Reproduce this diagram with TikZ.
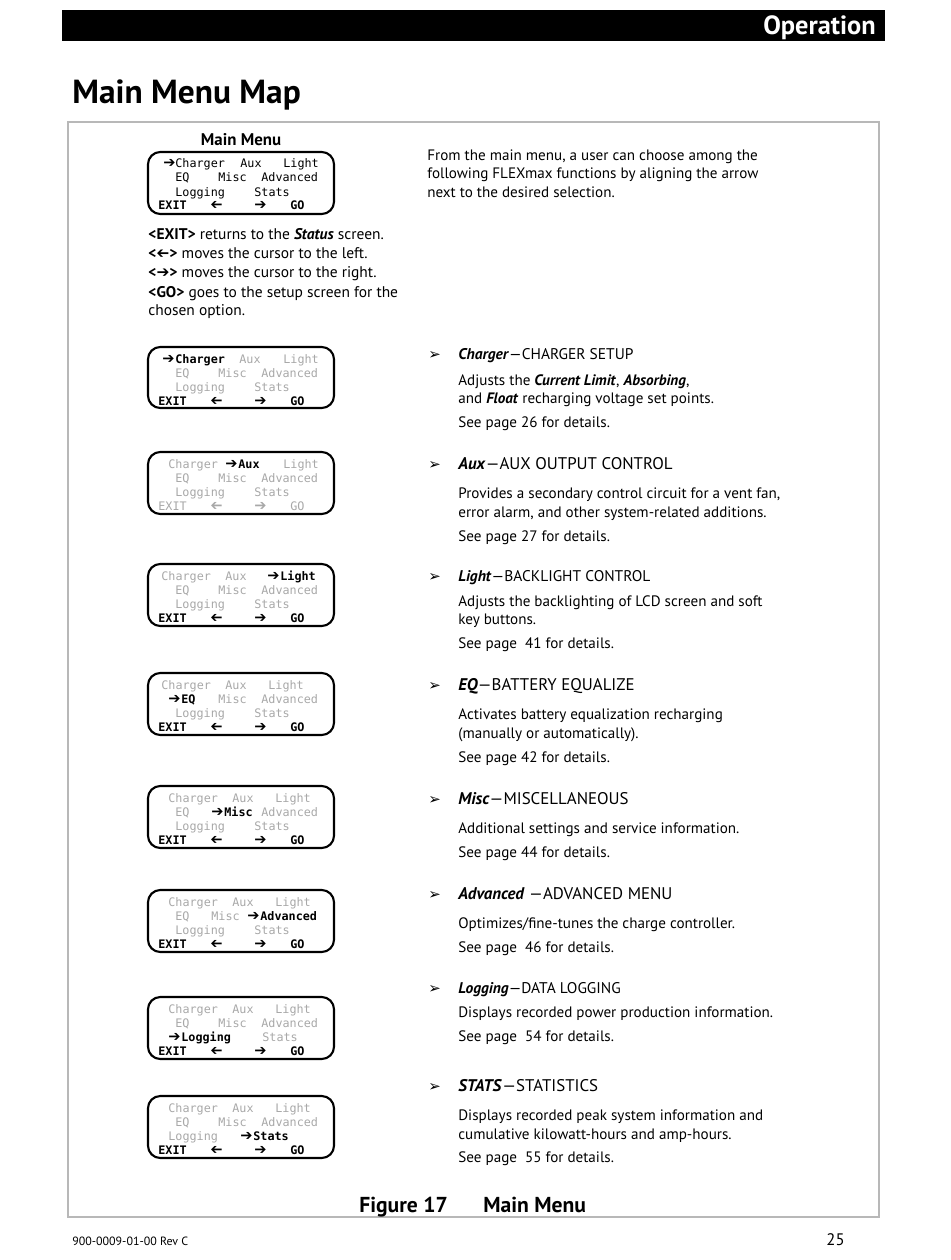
\documentclass[tikz,border=0pt]{standalone}
\usepackage{fontspec}
\setmainfont{PT Sans}
\newfontfamily\lcdfont{DejaVu Sans Mono}
\newfontfamily\symfont{DejaVu Sans}
\usepackage{tikz}
\usetikzlibrary{positioning}

\definecolor{lcdgray}{gray}{0.66}
\definecolor{framegray}{gray}{0.72}

\newcommand{\rarr}{{\symfont ➔}}
\newcommand{\larr}{{\symfont\reflectbox{➔}}}

\tikzset{
  lcd/.style={draw=black, line width=1.2pt, rounded corners=7pt},
  lcdtxt/.style={anchor=base west, inner sep=0pt, font=\lcdfont\fontsize{6.7}{7}\selectfont},
  lcdon/.style={lcdtxt, font=\lcdfont\bfseries\fontsize{6.7}{7}\selectfont},
  lcdoff/.style={lcdtxt, text=lcdgray},
  lcdsym/.style={anchor=base west, inner sep=0pt, font=\symfont\fontsize{8.3}{9}\selectfont},
  txt/.style={anchor=base west, inner sep=0pt, font=\fontsize{8.6}{10}\selectfont},
  keytxt/.style={txt, font=\fontsize{8.8}{10}\selectfont},
  smallhead/.style={txt, font=\fontsize{8.8}{10}\selectfont},
  bighead/.style={txt, font=\fontsize{9.6}{11}\selectfont},
  bullet/.style={anchor=base west, inner sep=0pt, font=\symfont\fontsize{8.5}{9}\selectfont},
}

\begin{document}
\begin{tikzpicture}[x=0.02cm, y=-0.02cm]
        \useasboundingbox (0,0) rectangle (950,1260);
        % page header
        \fill (62,10) rectangle (885,41);
        \node[anchor=base east, inner sep=0pt, text=white, font=\bfseries\fontsize{15}{17}\selectfont] (oper) at (876,35) {Operation};
        \node[anchor=base west, inner sep=0pt, font=\bfseries\fontsize{19}{22}\selectfont] (maptitle) at (72,104) {Main Menu Map};
        \draw[framegray, line width=0.8pt] (68,122) rectangle (879,1217);
        \node[anchor=base, inner sep=0pt, font=\bfseries\fontsize{9.6}{11}\selectfont] (menutitle) at (241,146) {Main Menu};

        % main menu screen
        \begin{scope}[shift={(0,152)}]
        \draw[lcd] (148,0) rectangle (334,62);
        \node[lcdsym] (a1) at (163,16) {\rarr};
        \node[lcdtxt] (a1ch) at (175,16) {Charger};
        \node[lcdtxt] (a1aux) at (240,16) {Aux};
        \node[lcdtxt] (a1li) at (283,16) {Light};
        \node[lcdtxt] (a1eq) at (175,30) {EQ};
        \node[lcdtxt] (a1mi) at (218,30) {Misc};
        \node[lcdtxt] (a1ad) at (261,30) {Advanced};
        \node[lcdtxt] (a1lo) at (175,44.5) {Logging};
        \node[lcdtxt] (a1st) at (254,44.5) {Stats};
        \node[lcdon] (a1ex) at (158,58) {EXIT};
        \node[lcdsym] (a1l) at (210,58) {\larr};
        \node[lcdsym] (a1r) at (254,58) {\rarr};
        \node[lcdon] (a1go) at (290,58) {GO};
        \end{scope}

        % Charger
        \begin{scope}[shift={(0,347)}]
        \draw[lcd] (148,0) rectangle (334,61);
        \node[lcdsym] (a2) at (162,16) {\rarr};
        \node[lcdon] (a2ch) at (175,16) {Charger};
        \node[lcdoff] (a2aux) at (239,16) {Aux};
        \node[lcdoff] (a2li) at (283,16) {Light};
        \node[lcdoff] (a2eq) at (175,30) {EQ};
        \node[lcdoff] (a2mi) at (218,30) {Misc};
        \node[lcdoff] (a2ad) at (261,30) {Advanced};
        \node[lcdoff] (a2lo) at (175,44.5) {Logging};
        \node[lcdoff] (a2st) at (254,44.5) {Stats};
        \node[lcdon] (a2ex) at (158,58) {EXIT};
        \node[lcdsym] (a2l) at (210,58) {\larr};
        \node[lcdsym] (a2r) at (254,58) {\rarr};
        \node[lcdon] (a2go) at (290,58) {GO};
        \end{scope}

        % Aux
        \begin{scope}[shift={(0,452)}]
        \draw[lcd] (148,0) rectangle (334,62);
        \node[lcdoff] (a3ch) at (168,16) {Charger};
        \node[lcdsym] (a3) at (225,16) {\rarr};
        \node[lcdon] (a3aux) at (238,16) {Aux};
        \node[lcdoff] (a3li) at (283,16) {Light};
        \node[lcdoff] (a3eq) at (175,30) {EQ};
        \node[lcdoff] (a3mi) at (218,30) {Misc};
        \node[lcdoff] (a3ad) at (261,30) {Advanced};
        \node[lcdoff] (a3lo) at (175,44.5) {Logging};
        \node[lcdoff] (a3st) at (254,44.5) {Stats};
        \node[lcdoff] (a3ex) at (158,58) {EXIT};
        \node[lcdsym, text=lcdgray] (a3l) at (210,58) {\larr};
        \node[lcdsym, text=lcdgray] (a3r) at (254,58) {\rarr};
        \node[lcdoff] (a3go) at (290,58) {GO};
        \end{scope}

        % Light
        \begin{scope}[shift={(0,564)}]
        \draw[lcd] (148,0) rectangle (334,62);
        \node[lcdoff] (a4ch) at (161,16) {Charger};
        \node[lcdoff] (a4aux) at (225,16) {Aux};
        \node[lcdsym] (a4) at (267,16) {\rarr};
        \node[lcdon] (a4li) at (280,16) {Light};
        \node[lcdoff] (a4eq) at (175,30) {EQ};
        \node[lcdoff] (a4mi) at (218,30) {Misc};
        \node[lcdoff] (a4ad) at (261,30) {Advanced};
        \node[lcdoff] (a4lo) at (175,44.5) {Logging};
        \node[lcdoff] (a4st) at (254,44.5) {Stats};
        \node[lcdon] (a4ex) at (158,58) {EXIT};
        \node[lcdsym] (a4l) at (210,58) {\larr};
        \node[lcdsym] (a4r) at (254,58) {\rarr};
        \node[lcdon] (a4go) at (290,58) {GO};
        \end{scope}

        % EQ
        \begin{scope}[shift={(0,673)}]
        \draw[lcd] (148,0) rectangle (334,62);
        \node[lcdoff] (a5ch) at (161,16) {Charger};
        \node[lcdoff] (a5aux) at (225,16) {Aux};
        \node[lcdoff] (a5li) at (268,16) {Light};
        \node[lcdsym] (a5) at (168,30) {\rarr};
        \node[lcdon] (a5eq) at (181,30) {EQ};
        \node[lcdoff] (a5mi) at (218,30) {Misc};
        \node[lcdoff] (a5ad) at (261,30) {Advanced};
        \node[lcdoff] (a5lo) at (175,44.5) {Logging};
        \node[lcdoff] (a5st) at (254,44.5) {Stats};
        \node[lcdon] (a5ex) at (158,58) {EXIT};
        \node[lcdsym] (a5l) at (210,58) {\larr};
        \node[lcdsym] (a5r) at (254,58) {\rarr};
        \node[lcdon] (a5go) at (290,58) {GO};
        \end{scope}

        % Misc
        \begin{scope}[shift={(0,786)}]
        \draw[lcd] (148,0) rectangle (334,62);
        \node[lcdoff] (a6ch) at (168,16) {Charger};
        \node[lcdoff] (a6aux) at (232,16) {Aux};
        \node[lcdoff] (a6li) at (275,16) {Light};
        \node[lcdoff] (a6eq) at (175,30) {EQ};
        \node[lcdsym] (a6) at (211,30) {\rarr};
        \node[lcdon] (a6mi) at (224,30) {Misc};
        \node[lcdoff] (a6ad) at (261,30) {Advanced};
        \node[lcdoff] (a6lo) at (175,44.5) {Logging};
        \node[lcdoff] (a6st) at (254,44.5) {Stats};
        \node[lcdon] (a6ex) at (158,58) {EXIT};
        \node[lcdsym] (a6l) at (210,58) {\larr};
        \node[lcdsym] (a6r) at (254,58) {\rarr};
        \node[lcdon] (a6go) at (290,58) {GO};
        \end{scope}

        % Advanced
        \begin{scope}[shift={(0,890)}]
        \draw[lcd] (148,0) rectangle (334,62);
        \node[lcdoff] (a7ch) at (168,16) {Charger};
        \node[lcdoff] (a7aux) at (232,16) {Aux};
        \node[lcdoff] (a7li) at (275,16) {Light};
        \node[lcdoff] (a7eq) at (175,30) {EQ};
        \node[lcdoff] (a7mi) at (211,30) {Misc};
        \node[lcdsym] (a7) at (247,30) {\rarr};
        \node[lcdon] (a7ad) at (260,30) {Advanced};
        \node[lcdoff] (a7lo) at (175,44.5) {Logging};
        \node[lcdoff] (a7st) at (254,44.5) {Stats};
        \node[lcdon] (a7ex) at (158,58) {EXIT};
        \node[lcdsym] (a7l) at (210,58) {\larr};
        \node[lcdsym] (a7r) at (254,58) {\rarr};
        \node[lcdon] (a7go) at (290,58) {GO};
        \end{scope}

        % Logging
        \begin{scope}[shift={(0,997)}]
        \draw[lcd] (148,0) rectangle (334,62);
        \node[lcdoff] (a8ch) at (168,16) {Charger};
        \node[lcdoff] (a8aux) at (232,16) {Aux};
        \node[lcdoff] (a8li) at (275,16) {Light};
        \node[lcdoff] (a8eq) at (175,30) {EQ};
        \node[lcdoff] (a8mi) at (218,30) {Misc};
        \node[lcdoff] (a8ad) at (261,30) {Advanced};
        \node[lcdsym] (a8) at (168,44.5) {\rarr};
        \node[lcdon] (a8lo) at (181,44.5) {Logging};
        \node[lcdoff] (a8st) at (262,44.5) {Stats};
        \node[lcdon] (a8ex) at (158,58) {EXIT};
        \node[lcdsym] (a8l) at (210,58) {\larr};
        \node[lcdsym] (a8r) at (254,58) {\rarr};
        \node[lcdon] (a8go) at (290,58) {GO};
        \end{scope}

        % Stats
        \begin{scope}[shift={(0,1096)}]
        \draw[lcd] (148,0) rectangle (334,62);
        \node[lcdoff] (a9ch) at (168,16) {Charger};
        \node[lcdoff] (a9aux) at (232,16) {Aux};
        \node[lcdoff] (a9li) at (275,16) {Light};
        \node[lcdoff] (a9eq) at (175,30) {EQ};
        \node[lcdoff] (a9mi) at (218,30) {Misc};
        \node[lcdoff] (a9ad) at (261,30) {Advanced};
        \node[lcdoff] (a9lo) at (168,44.5) {Logging};
        \node[lcdsym] (a9) at (240,44.5) {\rarr};
        \node[lcdon] (a9st) at (253,44.5) {Stats};
        \node[lcdon] (a9ex) at (158,58) {EXIT};
        \node[lcdsym] (a9l) at (210,58) {\larr};
        \node[lcdsym] (a9r) at (254,58) {\rarr};
        \node[lcdon] (a9go) at (290,58) {GO};
        \end{scope}

        % key help under the main screen
        \node[keytxt] (k1) at (148,240) {\textbf{<EXIT>} returns to the \textbf{\textit{Status}} screen.};
        \node[keytxt] (k2) at (148,259) {\textbf{<}\larr\textbf{>} moves the cursor to the left.};
        \node[keytxt] (k3) at (148,278) {\textbf{<}\rarr\textbf{>} moves the cursor to the right.};
        \node[keytxt] (k4) at (148,297) {\textbf{<GO>} goes to the setup screen for the};
        \node[keytxt] (k5) at (148,316) {chosen option.};

        % descriptions
        \node[txt] (i1) at (427,161) {From the main menu, a user can choose among the};
        \node[txt] (i2) at (427,179) {following FLEXmax functions by aligning the arrow};
        \node[txt] (i3) at (427,198) {next to the desired selection.};

        \node[bullet] (u1) at (428,359) {➢};
        \node[smallhead] (h1) at (458,359) {\textbf{\textit{Charger}}—CHARGER SETUP};
        \node[txt] (d1a) at (458,385) {Adjusts the \textbf{\textit{Current Limit}}, \textbf{\textit{Absorbing}},};
        \node[txt] (d1b) at (458,403) {and \textbf{\textit{Float}} recharging voltage set points.};
        \node[txt] (p1) at (458,427) {See page 26 for details.};

        \node[bullet] (u2) at (428,469) {➢};
        \node[bighead] (h2) at (458,469) {\textbf{\textit{Aux}}—AUX OUTPUT CONTROL};
        \node[txt] (d2a) at (458,498) {Provides a secondary control circuit for a vent fan,};
        \node[txt] (d2b) at (458,517) {error alarm, and other system-related additions.};
        \node[txt] (p2) at (458,541) {See page 27 for details.};

        \node[bullet] (u3) at (428,581) {➢};
        \node[smallhead] (h3) at (458,581) {\textbf{\textit{Light}}—BACKLIGHT CONTROL};
        \node[txt] (d3a) at (458,606) {Adjusts the backlighting of LCD screen and soft};
        \node[txt] (d3b) at (458,624) {key buttons.};
        \node[txt] (p3) at (458,648) {See page\ \ 41 for details.};

        \node[bullet] (u4) at (428,690) {➢};
        \node[bighead] (h4) at (458,690) {\textbf{\textit{EQ}}—BATTERY EQUALIZE};
        \node[txt] (d4a) at (458,719) {Activates battery equalization recharging};
        \node[txt] (d4b) at (458,738) {(manually or automatically).};
        \node[txt] (p4) at (458,762) {See page 42 for details.};

        \node[bullet] (u5) at (428,804) {➢};
        \node[bighead] (h5) at (458,804) {\textbf{\textit{Misc}}—MISCELLANEOUS};
        \node[txt] (d5a) at (458,833) {Additional settings and service information.};
        \node[txt] (p5) at (458,857) {See page 44 for details.};

        \node[bullet] (u6) at (428,899) {➢};
        \node[bighead] (h6) at (458,899) {\textbf{\textit{Advanced}} —ADVANCED MENU};
        \node[txt] (d6a) at (458,928) {Optimizes/fine-tunes the charge controller.};
        \node[txt] (p6) at (458,952) {See page\ \ 46 for details.};

        \node[bullet] (u7) at (428,993) {➢};
        \node[smallhead] (h7) at (458,993) {\textbf{\textit{Logging}}—DATA LOGGING};
        \node[txt] (d7a) at (458,1017) {Displays recorded power production information.};
        \node[txt] (p7) at (458,1041) {See page\ \ 54 for details.};

        \node[bullet] (u8) at (428,1091) {➢};
        \node[bighead] (h8) at (458,1091) {\textbf{\textit{STATS}}—STATISTICS};
        \node[txt] (d8a) at (458,1120) {Displays recorded peak system information and};
        \node[txt] (d8b) at (458,1139) {cumulative kilowatt-hours and amp-hours.};
        \node[txt] (p8) at (458,1162) {See page\ \ 55 for details.};

        % caption and footer
        \node[anchor=base west, inner sep=0pt, font=\bfseries\fontsize{12.3}{14}\selectfont] (figno) at (359,1212) {Figure 17};
        \node[anchor=base west, inner sep=0pt, font=\bfseries\fontsize{12.3}{14}\selectfont] (figname) at (483,1212) {Main Menu};
        \node[anchor=base west, inner sep=0pt, font=\fontsize{6.8}{8}\selectfont] (docno) at (72,1245) {900-0009-01-00 Rev C};
        \node[anchor=base east, inner sep=0pt, font=\fontsize{9.5}{11}\selectfont] (pageno) at (845,1245) {25};
    \end{tikzpicture}
\end{document}
